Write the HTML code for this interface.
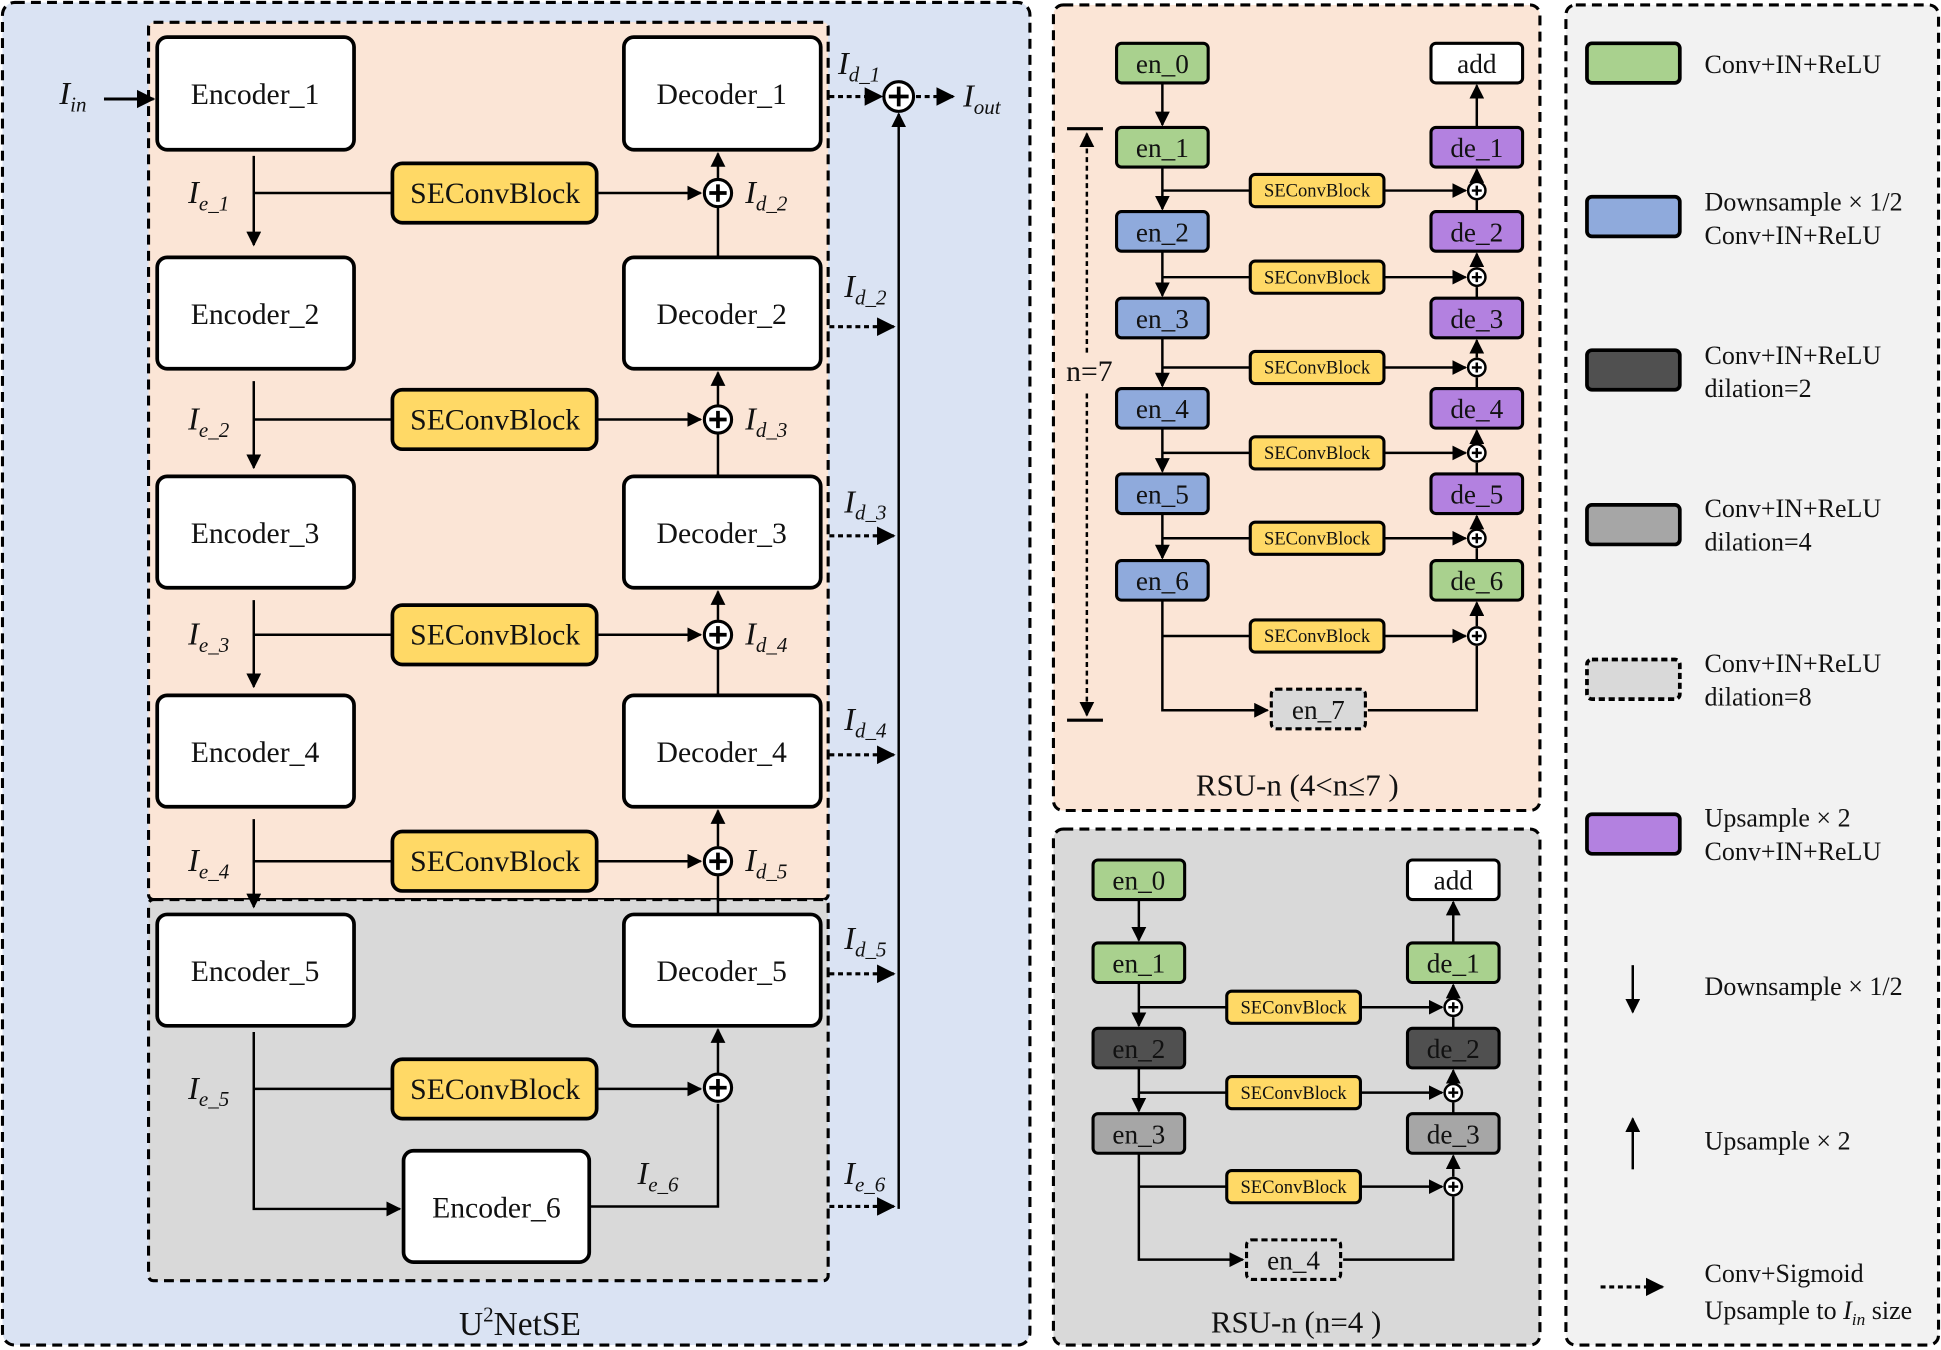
<!DOCTYPE html>
<html><head><meta charset="utf-8"><style>html,body{margin:0;padding:0;background:#fff}svg{display:block}text{font-family:"Liberation Serif",serif;fill:#111}</style></head><body>
<svg width="1941" height="1350" viewBox="0 0 1568 1091" preserveAspectRatio="none" xmlns="http://www.w3.org/2000/svg">
<defs>
<marker id="a" viewBox="0 0 10 10" refX="9" refY="5" markerWidth="6" markerHeight="6" orient="auto-start-reverse" markerUnits="strokeWidth"><path d="M0,0 L10,5 L0,10 z" fill="#000"/></marker>
</defs>
<rect x="2" y="2" width="830" height="1085" rx="10" fill="#dae3f3" stroke="#000" stroke-width="2.5" stroke-dasharray="8,5"/>
<rect x="120" y="18" width="549" height="709" rx="4" fill="#fbe5d6" stroke="#000" stroke-width="2.5" stroke-dasharray="8,5"/>
<rect x="120" y="727" width="549" height="308" rx="4" fill="#d9d9d9" stroke="#000" stroke-width="2.5" stroke-dasharray="8,5"/>
<rect x="851" y="4" width="393" height="651" rx="8" fill="#fbe5d6" stroke="#000" stroke-width="2.5" stroke-dasharray="8,5"/>
<rect x="851" y="670" width="393" height="417" rx="8" fill="#d9d9d9" stroke="#000" stroke-width="2.5" stroke-dasharray="8,5"/>
<rect x="1265" y="4" width="301" height="1083" rx="8" fill="#f2f2f2" stroke="#000" stroke-width="2.5" stroke-dasharray="8,5"/>

<g stroke="#000" stroke-width="3" fill="#fff">
<rect x="127" y="30" width="159" height="91" rx="8"/><rect x="127" y="208" width="159" height="90" rx="8"/><rect x="127" y="385" width="159" height="90" rx="8"/><rect x="127" y="562" width="159" height="90" rx="8"/><rect x="127" y="739" width="159" height="90" rx="8"/>
<rect x="504" y="30" width="159" height="91" rx="8"/><rect x="504" y="208" width="159" height="90" rx="8"/><rect x="504" y="385" width="159" height="90" rx="8"/><rect x="504" y="562" width="159" height="90" rx="8"/><rect x="504" y="739" width="159" height="90" rx="8"/>
<rect x="326" y="930" width="150" height="90" rx="8"/>
</g>
<g font-size="24" text-anchor="middle">
<text x="206" y="84">Encoder_1</text><text x="206" y="262">Encoder_2</text><text x="206" y="439">Encoder_3</text><text x="206" y="616">Encoder_4</text><text x="206" y="793">Encoder_5</text>
<text x="583" y="84">Decoder_1</text><text x="583" y="262">Decoder_2</text><text x="583" y="439">Decoder_3</text><text x="583" y="616">Decoder_4</text><text x="583" y="793">Decoder_5</text>
<text x="401" y="984">Encoder_6</text>
</g>
<g stroke="#000" stroke-width="3" fill="#ffd966">
<rect x="317" y="132" width="165" height="48" rx="8"/><rect x="317" y="315" width="165" height="48" rx="8"/><rect x="317" y="489" width="165" height="48" rx="8"/><rect x="317" y="672" width="165" height="48" rx="8"/><rect x="317" y="856" width="165" height="48" rx="8"/>
</g>
<g font-size="24" text-anchor="middle">
<text x="400" y="164">SEConvBlock</text><text x="400" y="347">SEConvBlock</text><text x="400" y="521">SEConvBlock</text><text x="400" y="704">SEConvBlock</text><text x="400" y="888">SEConvBlock</text>
</g>
<g stroke="#000" stroke-width="2" fill="none">
<line x1="205" y1="126" x2="205" y2="198" marker-end="url(#a)"/><line x1="205" y1="308" x2="205" y2="378" marker-end="url(#a)"/><line x1="205" y1="485" x2="205" y2="555" marker-end="url(#a)"/><line x1="205" y1="662" x2="205" y2="733" marker-end="url(#a)"/>
<line x1="205" y1="156" x2="317" y2="156"/><line x1="205" y1="339" x2="317" y2="339"/><line x1="205" y1="513" x2="317" y2="513"/><line x1="205" y1="696" x2="317" y2="696"/><line x1="205" y1="880" x2="317" y2="880"/>
<polyline points="205,834 205,977 323,977" marker-end="url(#a)"/>
<line x1="482" y1="156" x2="566" y2="156" marker-end="url(#a)"/><line x1="482" y1="339" x2="566" y2="339" marker-end="url(#a)"/><line x1="482" y1="513" x2="566" y2="513" marker-end="url(#a)"/><line x1="482" y1="696" x2="566" y2="696" marker-end="url(#a)"/><line x1="482" y1="880" x2="566" y2="880" marker-end="url(#a)"/>
<line x1="580" y1="144" x2="580" y2="124" marker-end="url(#a)"/><line x1="580" y1="327" x2="580" y2="301" marker-end="url(#a)"/><line x1="580" y1="501" x2="580" y2="478" marker-end="url(#a)"/><line x1="580" y1="684" x2="580" y2="655" marker-end="url(#a)"/><line x1="580" y1="867" x2="580" y2="832" marker-end="url(#a)"/>
<line x1="580" y1="208" x2="580" y2="168"/><line x1="580" y1="385" x2="580" y2="351"/><line x1="580" y1="562" x2="580" y2="525"/><line x1="580" y1="739" x2="580" y2="708"/>
<polyline points="476,975 580,975 580,892"/>
<line x1="726" y1="977" x2="726" y2="92" marker-end="url(#a)"/>
<line x1="84" y1="80" x2="124" y2="80" stroke-width="2.5" marker-end="url(#a)"/>
</g>
<g stroke="#000" stroke-width="2.5" fill="none" stroke-dasharray="4,3">
<line x1="670" y1="78" x2="712" y2="78" marker-end="url(#a)"/><line x1="740" y1="78" x2="770" y2="78" marker-end="url(#a)"/>
<line x1="670" y1="264" x2="722" y2="264" marker-end="url(#a)"/><line x1="670" y1="433" x2="722" y2="433" marker-end="url(#a)"/><line x1="670" y1="610" x2="722" y2="610" marker-end="url(#a)"/><line x1="670" y1="787" x2="722" y2="787" marker-end="url(#a)"/><line x1="670" y1="975" x2="722" y2="975" marker-end="url(#a)"/>
</g>
<g stroke="#000" stroke-width="2.5" fill="#fff">
<circle cx="580" cy="156" r="11"/><circle cx="580" cy="339" r="11"/><circle cx="580" cy="513" r="11"/><circle cx="580" cy="696" r="11"/><circle cx="580" cy="879" r="11"/><circle cx="726" cy="78" r="12"/>
</g>
<g stroke="#000" stroke-width="3">
<path d="M573,156h14M580,149v14M573,339h14M580,332v14M573,513h14M580,506v14M573,696h14M580,689v14M573,879h14M580,872v14M718,78h16M726,70v16"/>
</g>
<g font-size="26" font-style="italic">
<text x="48" y="84">I<tspan font-size="17" dy="6">in</tspan></text>
<text x="778" y="86">I<tspan font-size="17" dy="6">out</tspan></text>
<text x="152" y="164">I<tspan font-size="17" dy="6">e_1</tspan></text><text x="152" y="347">I<tspan font-size="17" dy="6">e_2</tspan></text><text x="152" y="521">I<tspan font-size="17" dy="6">e_3</tspan></text><text x="152" y="704">I<tspan font-size="17" dy="6">e_4</tspan></text><text x="152" y="888">I<tspan font-size="17" dy="6">e_5</tspan></text>
<text x="602" y="164">I<tspan font-size="17" dy="6">d_2</tspan></text><text x="602" y="347">I<tspan font-size="17" dy="6">d_3</tspan></text><text x="602" y="521">I<tspan font-size="17" dy="6">d_4</tspan></text><text x="602" y="704">I<tspan font-size="17" dy="6">d_5</tspan></text>
<text x="677" y="60">I<tspan font-size="17" dy="6">d_1</tspan></text><text x="682" y="240">I<tspan font-size="17" dy="6">d_2</tspan></text><text x="682" y="414">I<tspan font-size="17" dy="6">d_3</tspan></text><text x="682" y="590">I<tspan font-size="17" dy="6">d_4</tspan></text><text x="682" y="767">I<tspan font-size="17" dy="6">d_5</tspan></text><text x="682" y="957">I<tspan font-size="17" dy="6">e_6</tspan></text>
<text x="515" y="957">I<tspan font-size="17" dy="6">e_6</tspan></text>
</g>
<text x="420" y="1079" font-size="27" text-anchor="middle">U<tspan font-size="17" dy="-11">2</tspan><tspan dy="11">NetSE</tspan></text>

<g stroke="#000" stroke-width="2.5">
<rect x="902" y="35" width="74" height="32" rx="4" fill="#a9d18e"/>
<rect x="902" y="103" width="74" height="32" rx="4" fill="#a9d18e"/>
<rect x="902" y="171" width="74" height="32" rx="4" fill="#8faadc"/>
<rect x="902" y="241" width="74" height="32" rx="4" fill="#8faadc"/>
<rect x="902" y="314" width="74" height="32" rx="4" fill="#8faadc"/>
<rect x="902" y="383" width="74" height="32" rx="4" fill="#8faadc"/>
<rect x="902" y="453" width="74" height="32" rx="4" fill="#8faadc"/>
<rect x="1156" y="35" width="74" height="32" rx="4" fill="#fff"/>
<rect x="1156" y="103" width="74" height="32" rx="4" fill="#b381e0"/>
<rect x="1156" y="171" width="74" height="32" rx="4" fill="#b381e0"/>
<rect x="1156" y="241" width="74" height="32" rx="4" fill="#b381e0"/>
<rect x="1156" y="314" width="74" height="32" rx="4" fill="#b381e0"/>
<rect x="1156" y="383" width="74" height="32" rx="4" fill="#b381e0"/>
<rect x="1156" y="453" width="74" height="32" rx="4" fill="#a9d18e"/>
<rect x="1027" y="557" width="76" height="32" rx="4" fill="#d9d9d9" stroke-dasharray="5,3"/>
<g fill="#ffd966"><rect x="1010" y="141" width="108" height="26" rx="4"/><rect x="1010" y="211" width="108" height="26" rx="4"/><rect x="1010" y="284" width="108" height="26" rx="4"/><rect x="1010" y="353" width="108" height="26" rx="4"/><rect x="1010" y="422" width="108" height="26" rx="4"/><rect x="1010" y="501" width="108" height="26" rx="4"/></g>
</g>
<g font-size="22" text-anchor="middle">
<text x="939" y="59">en_0</text><text x="939" y="127">en_1</text><text x="939" y="195">en_2</text><text x="939" y="265">en_3</text><text x="939" y="338">en_4</text><text x="939" y="407">en_5</text><text x="939" y="477">en_6</text>
<text x="1193" y="59">add</text><text x="1193" y="127">de_1</text><text x="1193" y="195">de_2</text><text x="1193" y="265">de_3</text><text x="1193" y="338">de_4</text><text x="1193" y="407">de_5</text><text x="1193" y="477">de_6</text>
<text x="1065" y="581">en_7</text>
</g>
<g font-size="15" text-anchor="middle">
<text x="1064" y="159">SEConvBlock</text><text x="1064" y="229">SEConvBlock</text><text x="1064" y="302">SEConvBlock</text><text x="1064" y="371">SEConvBlock</text><text x="1064" y="440">SEConvBlock</text><text x="1064" y="519">SEConvBlock</text>
</g>
<g stroke="#000" stroke-width="2" fill="none">
<line x1="939" y1="67" x2="939" y2="101" marker-end="url(#a)"/><line x1="939" y1="135" x2="939" y2="169" marker-end="url(#a)"/><line x1="939" y1="203" x2="939" y2="239" marker-end="url(#a)"/><line x1="939" y1="273" x2="939" y2="312" marker-end="url(#a)"/><line x1="939" y1="346" x2="939" y2="381" marker-end="url(#a)"/><line x1="939" y1="415" x2="939" y2="451" marker-end="url(#a)"/>
<polyline points="939,485 939,574 1024,574" marker-end="url(#a)"/>
<line x1="939" y1="154" x2="1010" y2="154"/><line x1="939" y1="224" x2="1010" y2="224"/><line x1="939" y1="297" x2="1010" y2="297"/><line x1="939" y1="366" x2="1010" y2="366"/><line x1="939" y1="435" x2="1010" y2="435"/><line x1="939" y1="514" x2="1010" y2="514"/>
<line x1="1118" y1="154" x2="1184" y2="154" marker-end="url(#a)"/><line x1="1118" y1="224" x2="1184" y2="224" marker-end="url(#a)"/><line x1="1118" y1="297" x2="1184" y2="297" marker-end="url(#a)"/><line x1="1118" y1="366" x2="1184" y2="366" marker-end="url(#a)"/><line x1="1118" y1="435" x2="1184" y2="435" marker-end="url(#a)"/><line x1="1118" y1="514" x2="1184" y2="514" marker-end="url(#a)"/>
<line x1="1193" y1="103" x2="1193" y2="69" marker-end="url(#a)"/>
<line x1="1193" y1="146" x2="1193" y2="137" marker-end="url(#a)"/><line x1="1193" y1="171" x2="1193" y2="162"/>
<line x1="1193" y1="216" x2="1193" y2="205" marker-end="url(#a)"/><line x1="1193" y1="241" x2="1193" y2="232"/>
<line x1="1193" y1="289" x2="1193" y2="275" marker-end="url(#a)"/><line x1="1193" y1="314" x2="1193" y2="305"/>
<line x1="1193" y1="358" x2="1193" y2="348" marker-end="url(#a)"/><line x1="1193" y1="383" x2="1193" y2="374"/>
<line x1="1193" y1="427" x2="1193" y2="417" marker-end="url(#a)"/><line x1="1193" y1="453" x2="1193" y2="443"/>
<line x1="1193" y1="506" x2="1193" y2="487" marker-end="url(#a)"/>
<polyline points="1105,574 1193,574 1193,522"/>
<line x1="862" y1="104" x2="891" y2="104" stroke-width="2.5"/><line x1="862" y1="582" x2="891" y2="582" stroke-width="2.5"/>
<line x1="878" y1="285" x2="878" y2="108" stroke-dasharray="4,3" marker-end="url(#a)"/><line x1="878" y1="318" x2="878" y2="578" stroke-dasharray="4,3" marker-end="url(#a)"/>
</g>
<g stroke="#000" stroke-width="2" fill="#fff">
<circle cx="1193" cy="154" r="7"/><circle cx="1193" cy="224" r="7"/><circle cx="1193" cy="297" r="7"/><circle cx="1193" cy="366" r="7"/><circle cx="1193" cy="435" r="7"/><circle cx="1193" cy="514" r="7"/>
</g>
<path stroke="#000" stroke-width="2" d="M1189,154h8M1193,150v8M1189,224h8M1193,220v8M1189,297h8M1193,293v8M1189,366h8M1193,362v8M1189,435h8M1193,431v8M1189,514h8M1193,510v8"/>
<text x="880" y="308" font-size="24" text-anchor="middle">n=7</text>
<text x="1048" y="643" font-size="25" text-anchor="middle">RSU-n (4&lt;n≤7 )</text>

<g stroke="#000" stroke-width="2.5">
<rect x="883" y="695" width="74" height="32" rx="4" fill="#a9d18e"/>
<rect x="883" y="762" width="74" height="32" rx="4" fill="#a9d18e"/>
<rect x="883" y="831" width="74" height="32" rx="4" fill="#505050"/>
<rect x="883" y="900" width="74" height="32" rx="4" fill="#a6a6a6"/>
<rect x="1137" y="695" width="74" height="32" rx="4" fill="#fff"/>
<rect x="1137" y="762" width="74" height="32" rx="4" fill="#a9d18e"/>
<rect x="1137" y="831" width="74" height="32" rx="4" fill="#505050"/>
<rect x="1137" y="900" width="74" height="32" rx="4" fill="#a6a6a6"/>
<rect x="1007" y="1002" width="76" height="32" rx="4" fill="#d9d9d9" stroke-dasharray="5,3"/>
<g fill="#ffd966"><rect x="991" y="801" width="108" height="26" rx="4"/><rect x="991" y="870" width="108" height="26" rx="4"/><rect x="991" y="946" width="108" height="26" rx="4"/></g>
</g>
<g font-size="22" text-anchor="middle">
<text x="920" y="719">en_0</text><text x="920" y="786">en_1</text><text x="920" y="855">en_2</text><text x="920" y="924">en_3</text>
<text x="1174" y="719">add</text><text x="1174" y="786">de_1</text><text x="1174" y="855">de_2</text><text x="1174" y="924">de_3</text>
<text x="1045" y="1026">en_4</text>
</g>
<g font-size="15" text-anchor="middle"><text x="1045" y="819">SEConvBlock</text><text x="1045" y="888">SEConvBlock</text><text x="1045" y="964">SEConvBlock</text></g>
<g stroke="#000" stroke-width="2" fill="none">
<line x1="920" y1="727" x2="920" y2="760" marker-end="url(#a)"/><line x1="920" y1="794" x2="920" y2="829" marker-end="url(#a)"/><line x1="920" y1="863" x2="920" y2="898" marker-end="url(#a)"/>
<polyline points="920,932 920,1018 1004,1018" marker-end="url(#a)"/>
<line x1="920" y1="814" x2="991" y2="814"/><line x1="920" y1="883" x2="991" y2="883"/><line x1="920" y1="959" x2="991" y2="959"/>
<line x1="1099" y1="814" x2="1165" y2="814" marker-end="url(#a)"/><line x1="1099" y1="883" x2="1165" y2="883" marker-end="url(#a)"/><line x1="1099" y1="959" x2="1165" y2="959" marker-end="url(#a)"/>
<line x1="1174" y1="762" x2="1174" y2="729" marker-end="url(#a)"/>
<line x1="1174" y1="806" x2="1174" y2="796" marker-end="url(#a)"/><line x1="1174" y1="831" x2="1174" y2="822"/>
<line x1="1174" y1="875" x2="1174" y2="865" marker-end="url(#a)"/><line x1="1174" y1="900" x2="1174" y2="891"/>
<line x1="1174" y1="951" x2="1174" y2="934" marker-end="url(#a)"/>
<polyline points="1085,1018 1174,1018 1174,967"/>
</g>
<g stroke="#000" stroke-width="2" fill="#fff"><circle cx="1174" cy="814" r="7"/><circle cx="1174" cy="883" r="7"/><circle cx="1174" cy="959" r="7"/></g>
<path stroke="#000" stroke-width="2" d="M1170,814h8M1174,810v8M1170,883h8M1174,879v8M1170,959h8M1174,955v8"/>
<text x="1047" y="1077" font-size="25" text-anchor="middle">RSU-n (n=4 )</text>

<g stroke="#000" stroke-width="3">
<rect x="1282" y="35" width="75" height="32" rx="4" fill="#a9d18e"/>
<rect x="1282" y="159" width="75" height="32" rx="4" fill="#8faadc"/>
<rect x="1282" y="283" width="75" height="32" rx="4" fill="#505050"/>
<rect x="1282" y="408" width="75" height="32" rx="4" fill="#a6a6a6"/>
<rect x="1282" y="533" width="75" height="32" rx="4" fill="#d9d9d9" stroke-dasharray="5,3"/>
<rect x="1282" y="658" width="75" height="32" rx="4" fill="#b381e0"/>
</g>
<g font-size="21">
<text x="1377" y="59">Conv+IN+ReLU</text>
<text x="1377" y="170">Downsample × 1/2</text><text x="1377" y="197">Conv+IN+ReLU</text>
<text x="1377" y="294">Conv+IN+ReLU</text><text x="1377" y="321">dilation=2</text>
<text x="1377" y="418">Conv+IN+ReLU</text><text x="1377" y="445">dilation=4</text>
<text x="1377" y="543">Conv+IN+ReLU</text><text x="1377" y="570">dilation=8</text>
<text x="1377" y="668">Upsample × 2</text><text x="1377" y="695">Conv+IN+ReLU</text>
<text x="1377" y="804">Downsample × 1/2</text>
<text x="1377" y="929">Upsample × 2</text>
<text x="1377" y="1036">Conv+Sigmoid</text><text x="1377" y="1066">Upsample to <tspan font-style="italic">I</tspan><tspan font-style="italic" font-size="14" dy="5">in</tspan><tspan dy="-5"> size</tspan></text>
</g>
<g stroke="#000" stroke-width="2" fill="none">
<line x1="1319" y1="780" x2="1319" y2="818" marker-end="url(#a)"/>
<line x1="1319" y1="945" x2="1319" y2="904" marker-end="url(#a)"/>
<line x1="1293" y1="1040" x2="1343" y2="1040" stroke-dasharray="4,3" stroke-width="2.5" marker-end="url(#a)"/>
</g>
</svg>
</body></html>
